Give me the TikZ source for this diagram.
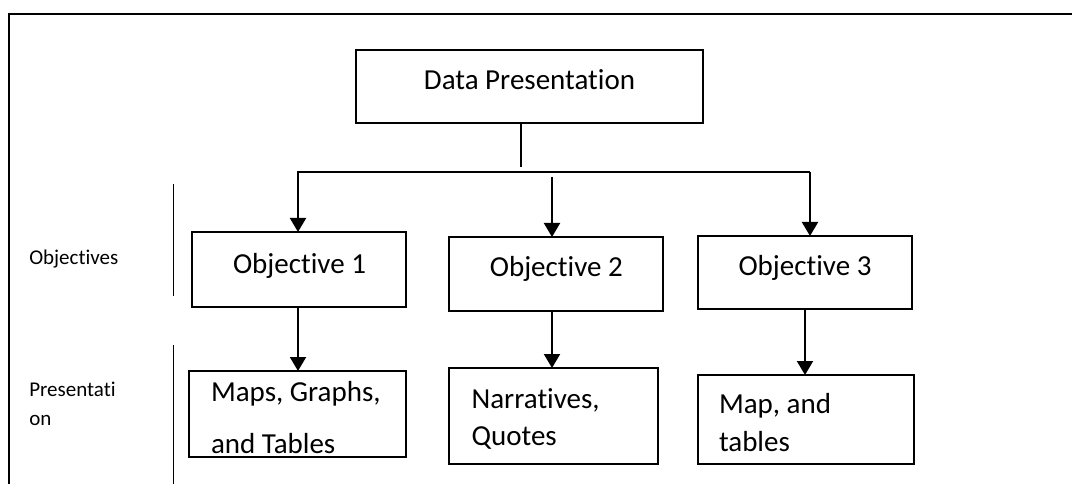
\documentclass[tikz,border=0pt]{standalone}
\usepackage{fontspec}
\setmainfont{Carlito}[RawFeature={-liga;-clig}]
\usetikzlibrary{arrows.meta}
\tikzset{
  box/.style={draw, line width=2pt, inner sep=0pt, outer sep=0pt},
  big/.style={font=\fontsize{29}{35}\selectfont, inner sep=0pt, outer sep=0pt},
  small/.style={font=\fontsize{21}{25}\selectfont, inner sep=0pt, outer sep=0pt},
  conn/.style={line width=2pt},
  arr/.style={line width=2pt, -{Triangle[width=16pt,length=14pt]}},
  sep/.style={line width=1.6pt},
}
\begin{document}
\begin{tikzpicture}[x=1pt,y=-1pt]
\useasboundingbox (0,0) rectangle (1072,484);
% frame
\coordinate (fb) at (9,486);
\coordinate (ftl) at (9,14);
\coordinate (fr) at (1080,14);
\draw[line width=2pt] (fb) -- (ftl) -- (fr);
% boxes
\node[box, minimum width=347pt, minimum height=73pt] (dp) at (529.5,86.5) {};
\node[box, minimum width=214pt, minimum height=75pt] (o1) at (299,269.5) {};
\node[box, minimum width=214pt, minimum height=74pt] (o2) at (556,274) {};
\node[box, minimum width=214pt, minimum height=73pt] (o3) at (805,272.5) {};
\node[box, minimum width=217pt, minimum height=86pt] (m1) at (297.5,414) {};
\node[box, minimum width=209pt, minimum height=96pt] (m2) at (553.5,416) {};
\node[box, minimum width=216pt, minimum height=89pt] (m3) at (806,419.5) {};
% texts
\node[big, anchor=base] (dpt) at (529.5,90) {Data Presentation};
\node[big, anchor=base] (o1t) at (299.5,273.3) {Objective 1};
\node[big, anchor=base] (o2t) at (556.3,276.7) {Objective 2};
\node[big, anchor=base] (o3t) at (805,275) {Objective 3};
\node[big, anchor=base west] (m1a) at (211,401.7) {Maps, Graphs,};
\begin{scope}
\clip (m1.south west) rectangle (m1.north east);
\node[big, anchor=base west] (m1b) at (211,453) {and Tables};
\end{scope}
\node[big, anchor=base west] (m2a) at (471.6,408.3) {Narratives,};
\node[big, anchor=base west] (m2b) at (471.6,445) {Quotes};
\node[big, anchor=base west] (m3a) at (719,413.3) {Map, and};
\node[big, anchor=base west] (m3b) at (719,451.7) {tables};
% left labels
\node[small, anchor=base west] (lobj) at (29.3,264.3) {Objectives};
\node[small, anchor=base west] (lpr1) at (29.3,396.7) {Presentati};
\node[small, anchor=base west] (lpr2) at (29.3,425) {on};
\coordinate (s1t) at (173.3,184);
\coordinate (s1b) at (173.3,296);
\coordinate (s2t) at (173.3,345);
\coordinate (s2b) at (173.3,486);
\draw[sep] (s1t) -- (s1b);
\draw[sep] (s2t) -- (s2b);
% connectors
\coordinate (j) at (521,167);
\coordinate (hl) at (298,172);
\coordinate (hr) at (810,172);
\coordinate (h2) at (552,177);
\draw[conn] (j |- dp.south) -- (j);
\draw[arr] (hr) -- (hl) -- (hl |- o1.north);
\draw[arr] (hr) -- (hr |- o3.north);
\draw[arr] (h2) -- (h2 |- o2.north);
\draw[arr] (hl |- o1.south) -- (hl |- m1.north);
\draw[arr] (h2 |- o2.south) -- (h2 |- m2.north);
\draw[arr] (o3.south) -- (o3.south |- m3.north);
\end{tikzpicture}
\end{document}
